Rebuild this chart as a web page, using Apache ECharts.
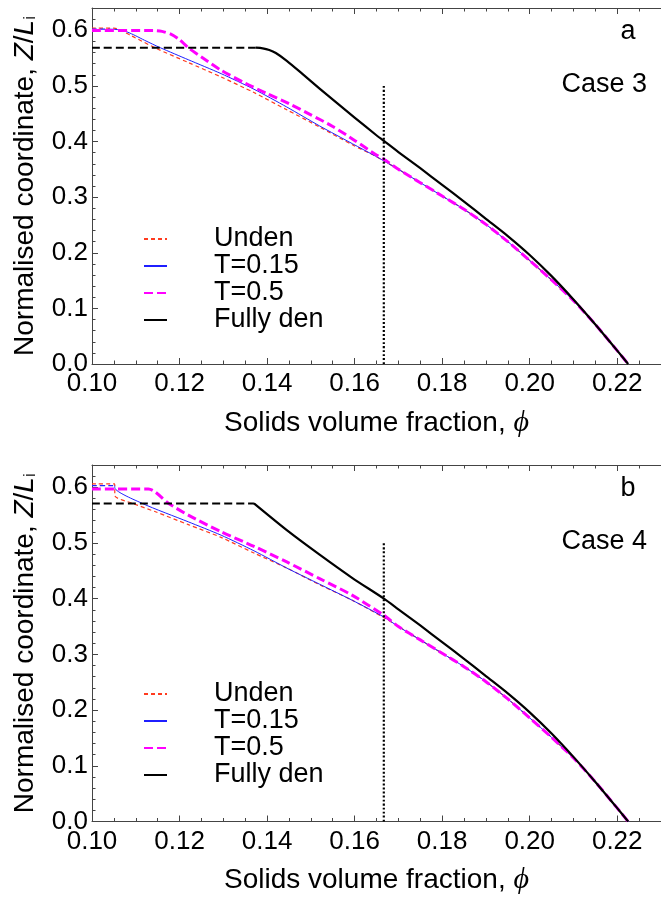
<!DOCTYPE html>
<html>
<head>
<meta charset="utf-8">
<script src="https://cdn.jsdelivr.net/npm/echarts@6/dist/echarts.min.js"></script>
<style>
  html, body { margin: 0; padding: 0; background: #fff; }
  #chart { width: 661px; height: 897px; }
</style>
</head>
<body>
<div id="chart"></div>
<script>
// tick values
const xTicks = [0.10, 0.12, 0.14, 0.16, 0.18, 0.20, 0.22]
const xMinorTicks = [0.105, 0.11, 0.115, 0.125, 0.13, 0.135, 0.145, 0.15, 0.155, 0.165, 0.17, 0.175,
  0.185, 0.19, 0.195, 0.205, 0.21, 0.215, 0.225]
const yTicks = [0.0, 0.1, 0.2, 0.3, 0.4, 0.5, 0.6]
const yMinorTicks = [0.02, 0.04, 0.06, 0.08, 0.12, 0.14, 0.16, 0.18, 0.22, 0.24, 0.26, 0.28,
  0.32, 0.34, 0.36, 0.38, 0.42, 0.44, 0.46, 0.48, 0.52, 0.54, 0.56, 0.58, 0.62]
const legendNames = ['Unden', 'T=0.15', 'T=0.5', 'Fully den']

// shared lower parts of the curves (phi > 1/6)
const partialTail = [[0.170, 0.350], [0.175, 0.326], [0.180, 0.302], [0.185, 0.278], [0.190, 0.251],
  [0.195, 0.220], [0.200, 0.186], [0.205, 0.151], [0.210, 0.114], [0.215, 0.071], [0.220, 0.024], [0.2225, 0.000]]
const fullyDenTail = [[0.170, 0.381], [0.175, 0.352], [0.180, 0.322], [0.185, 0.292], [0.190, 0.261],
  [0.195, 0.230], [0.200, 0.196], [0.205, 0.158], [0.210, 0.116], [0.215, 0.071], [0.220, 0.024], [0.2225, 0.000]]
const criticalLine = [[0.16667, 0], [0.16667, 0.5]]

// case 3 (panel a)
const c3Unden = [[0.100, 0.604], [0.105, 0.604], [0.109, 0.590], [0.1145, 0.568], [0.122, 0.542], [0.1295, 0.516],
  [0.137, 0.488], [0.1445, 0.457], [0.152, 0.426], [0.1595, 0.394], [0.1647, 0.374], [0.1667, 0.365]]
const c3T015Plateau = [[0.100, 0.602], [0.104, 0.602]]
const c3T015 = [[0.104, 0.602], [0.106, 0.601], [0.108, 0.597], [0.110, 0.590], [0.112, 0.582], [0.1156, 0.5686],
  [0.122, 0.547], [0.1295, 0.522], [0.137, 0.494], [0.1445, 0.462], [0.152, 0.428], [0.1595, 0.396],
  [0.1647, 0.374], [0.1667, 0.365]]
const c3T05 = [[0.100, 0.5996], [0.114, 0.5996], [0.116, 0.598], [0.118, 0.593], [0.120, 0.583], [0.122, 0.5686],
  [0.125, 0.552], [0.1295, 0.528], [0.135, 0.505], [0.140, 0.486], [0.145, 0.468], [0.150, 0.448],
  [0.155, 0.427], [0.160, 0.402], [0.1647, 0.377], [0.1667, 0.368]]
const c3FullPlateau = [[0.100, 0.5686], [0.1374, 0.5686]]
const c3Full = [[0.1374, 0.5686], [0.139, 0.5675], [0.1405, 0.5645], [0.142, 0.559], [0.1445, 0.545],
  [0.148, 0.522], [0.152, 0.495], [0.156, 0.469], [0.160, 0.443], [0.1647, 0.413], [0.1667, 0.401]]

// case 4 (panel b)
const c4Unden = [[0.100, 0.606], [0.1052, 0.606], [0.10521, 0.585], [0.1093, 0.571], [0.1145, 0.556], [0.122, 0.533],
  [0.1295, 0.510], [0.137, 0.482], [0.1445, 0.455], [0.152, 0.425], [0.1595, 0.397], [0.1667, 0.366]]
const c4T015Plateau = [[0.100, 0.603], [0.1052, 0.603]]
const c4T015 = [[0.1052, 0.603], [0.10521, 0.599], [0.1115, 0.571], [0.122, 0.538], [0.1295, 0.514], [0.137, 0.486],
  [0.1445, 0.455], [0.152, 0.426], [0.1595, 0.397], [0.1667, 0.367]]
const c4T05 = [[0.100, 0.597], [0.1129, 0.597], [0.1175, 0.571], [0.122, 0.550], [0.1295, 0.520], [0.137, 0.494],
  [0.1445, 0.466], [0.152, 0.436], [0.1595, 0.406], [0.1667, 0.370]]
const c4FullPlateau = [[0.100, 0.571], [0.137, 0.571]]
const c4Full = [[0.137, 0.571], [0.1445, 0.523], [0.152, 0.479], [0.1595, 0.437], [0.1667, 0.400]]

const FONT = 'Liberation Sans, Arial, sans-serif'
const gridTops = [8, 465]
const plotHeights = [356, 356.5]

function xAxes(g) {
  const base = { gridIndex: g, type: 'value', min: 0.10, max: 0.23, splitLine: { show: false } }
  const line = { show: true, lineStyle: { color: '#444', width: 1 } }
  return [
    { ...base, position: 'bottom', axisLine: line,
      axisTick: { inside: true, length: 6, customValues: xTicks, lineStyle: { color: '#444' } },
      axisLabel: { customValues: xTicks, formatter: v => v.toFixed(2), fontSize: 26, fontFamily: FONT, color: '#000', margin: 7 },
      name: 'Solids volume fraction, {phi|ϕ}', nameLocation: 'middle', nameGap: 44,
      nameTextStyle: { fontSize: 28, fontFamily: FONT, color: '#000',
        rich: { phi: { fontSize: 30, fontFamily: 'Liberation Serif, serif', fontStyle: 'italic', color: '#000' } } } },
    { ...base, position: 'bottom', axisLine: { show: false }, axisLabel: { show: false },
      axisTick: { inside: true, length: 3.5, customValues: xMinorTicks, lineStyle: { color: '#444' } } },
    { ...base, position: 'top', axisLine: line, axisLabel: { show: false },
      axisTick: { inside: true, length: 6, customValues: xTicks, lineStyle: { color: '#444' } } },
    { ...base, position: 'top', axisLine: { show: false }, axisLabel: { show: false },
      axisTick: { inside: true, length: 3.5, customValues: xMinorTicks, lineStyle: { color: '#444' } } }
  ]
}

function yAxes(g) {
  const base = { gridIndex: g, type: 'value', min: 0, max: 0.64, position: 'left', splitLine: { show: false } }
  return [
    { ...base, axisLine: { show: true, lineStyle: { color: '#444', width: 1 } },
      axisTick: { inside: true, length: 6, customValues: yTicks, lineStyle: { color: '#444' } },
      axisLabel: { customValues: yTicks, formatter: v => v.toFixed(1), fontSize: 26, fontFamily: FONT, color: '#000', margin: 4 },
      name: 'Normalised coordinate, {it|Z}/{it|L}{sub|i}', nameLocation: 'middle', nameGap: 53,
      nameTextStyle: { fontSize: 28, fontFamily: FONT, color: '#000',
        rich: {
          it: { fontSize: 28, fontFamily: FONT, fontStyle: 'italic', color: '#000' },
          sub: { fontSize: 17, fontFamily: FONT, color: '#000', verticalAlign: 'bottom', lineHeight: 10 }
        } } },
    { ...base, axisLine: { show: false }, axisLabel: { show: false },
      axisTick: { inside: true, length: 3.5, customValues: yMinorTicks, lineStyle: { color: '#444' } } }
  ]
}

function line(name, data, g, lineStyle, z) {
  return {
    name, type: 'line', data, xAxisIndex: g * 4, yAxisIndex: g * 2,
    symbol: 'none', showSymbol: false, silent: true, z: z || 2,
    smooth: 0.25,
    itemStyle: { color: lineStyle.color },
    lineStyle: { join: 'round', cap: 'butt', ...lineStyle }
  }
}

const RED = '#ff3b1f'
const BLUE = '#1f1fff'
const MAGENTA = '#ff00ff'

function panelSeries(g, unden, t015Plateau, t015, t05, fullPlateau, full) {
  return [
    line('Unden', unden.concat(partialTail), g, { color: RED, width: 1.2, type: [4, 3] }, 2),
    line('blue plateau ' + g, t015Plateau, g, { color: BLUE, width: 1.2, type: [5, 3] }, 3),
    line('T=0.15', t015.concat(partialTail), g, { color: BLUE, width: 1 }, 3),
    line('T=0.5', t05.concat(partialTail), g, { color: MAGENTA, width: 3, type: [9, 4] }, 4),
    line('black plateau ' + g, fullPlateau, g, { color: '#000', width: 2, type: [8, 4] }, 5),
    line('Fully den', full.concat(fullyDenTail), g, { color: '#000', width: 2.2 }, 5),
    line('critical ' + g, criticalLine, g, { color: '#000', width: 2.2, type: [2, 2] }, 6)
  ]
}

const chart = echarts.init(document.getElementById('chart'), null, { renderer: 'canvas' })

const annotations = [['a', 'Case 3'], ['b', 'Case 4']]
const graphics = []
annotations.forEach((pair, g) => {
  const off = gridTops[g] - gridTops[0]
  graphics.push({ type: 'text', x: 628, y: 32 + off, style: { text: pair[0], font: '27px ' + FONT, fill: '#000', align: 'center', verticalAlign: 'middle' } })
  graphics.push({ type: 'text', x: 647, y: 85 + off, style: { text: pair[1], font: '27px ' + FONT, fill: '#000', align: 'right', verticalAlign: 'middle' } })
})

chart.setOption({
  backgroundColor: '#fff',
  animation: false,
  grid: gridTops.map((t, i) => ({ left: 92, top: t, width: 578.5, height: plotHeights[i] })),
  xAxis: xAxes(0).concat(xAxes(1)),
  yAxis: yAxes(0).concat(yAxes(1)),
  legend: [225.5, 680.5].map(top => ({
    data: legendNames, orient: 'vertical', left: 143, top, padding: 0, itemGap: 0,
    itemWidth: 23, itemHeight: 14, selectedMode: false,
    itemStyle: { opacity: 0 },
    textStyle: { fontFamily: FONT, fontSize: 27, color: '#000', lineHeight: 25, padding: [0, 0, 0, 42] }
  })),
  graphic: graphics,
  series: panelSeries(0, c3Unden, c3T015Plateau, c3T015, c3T05, c3FullPlateau, c3Full)
    .concat(panelSeries(1, c4Unden, c4T015Plateau, c4T015, c4T05, c4FullPlateau, c4Full))
})
</script>
</body>
</html>
